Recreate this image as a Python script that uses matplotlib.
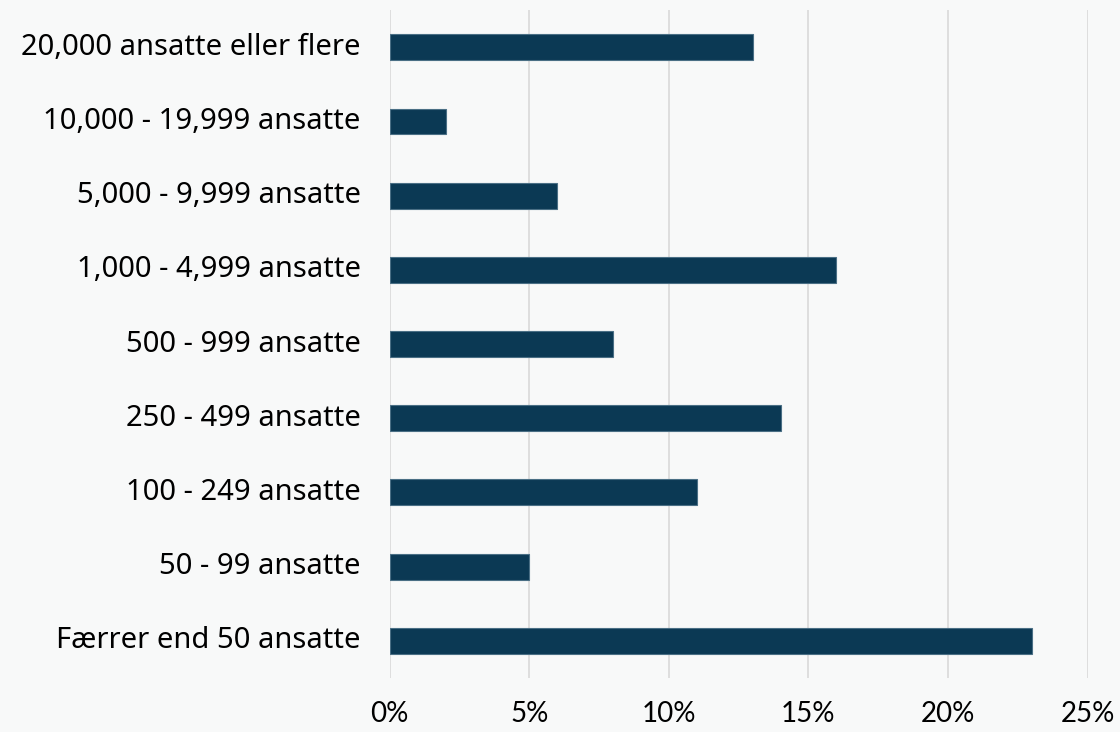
import matplotlib
matplotlib.use("Agg")
import matplotlib.pyplot as plt
from matplotlib.ticker import FuncFormatter

categories = [
    "20,000 ansatte eller flere",
    "10,000 - 19,999 ansatte",
    "5,000 - 9,999 ansatte",
    "1,000 - 4,999 ansatte",
    "500 - 999 ansatte",
    "250 - 499 ansatte",
    "100 - 249 ansatte",
    "50 - 99 ansatte",
    "Færrer end 50 ansatte",
]
values = [13, 2, 6, 16, 8, 14, 11, 5, 23]
xticks = [0, 5, 10, 15, 20, 25]

bg = "#f8f9f9"
bar_color = "#0b3954"

plt.rcParams["font.family"] = ["Lato", "DejaVu Sans"]

fig = plt.figure(figsize=(11.2, 7.32), dpi=100, facecolor=bg)
ax = fig.add_axes([0.348, 0.074, 0.623, 0.912], facecolor=bg)

ypos = list(range(len(categories)))
ax.barh(ypos, values, height=0.35, color=bar_color, edgecolor="#4a6f85",
        linewidth=0.8, zorder=3)

ax.set_yticks(ypos)
ax.set_yticklabels(categories, fontsize=21, family=["Noto Sans", "DejaVu Sans"],
                   va="center")
ax.set_ylim(len(categories) - 0.5, -0.5)
ax.set_xlim(0, 25)
ax.set_xticks(xticks)
ax.xaxis.set_major_formatter(FuncFormatter(lambda v, _: f"{v:.0f}%"))
ax.tick_params(axis="x", labelsize=20, length=0, pad=17)
ax.tick_params(axis="y", length=0, pad=21)

ax.grid(axis="x", color="#d9d9d9", linewidth=1.2, zorder=0)
for s in ax.spines.values():
    s.set_visible(False)

fig.savefig("out.png", dpi=100, facecolor=bg)
